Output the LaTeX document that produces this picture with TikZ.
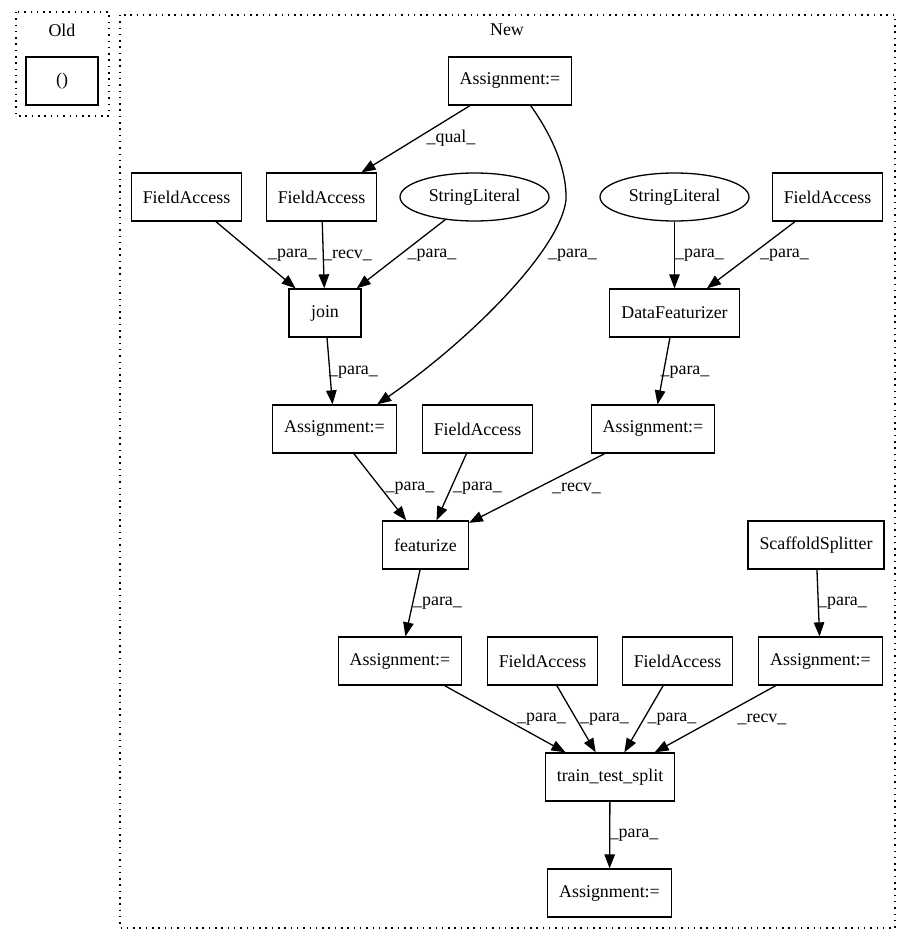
\documentclass[tikz,border=0pt]{standalone}
\usepackage{fontspec}
\setmainfont{Liberation Serif}
\usetikzlibrary{arrows.meta,shapes.geometric}
\begin{document}
\begin{tikzpicture}[x=1pt,y=-1pt,
  every node/.style={font=\fontsize{17.9}{21}\selectfont},
  box/.style={draw,line width=1.3pt,rectangle,minimum height=48pt,minimum width=72pt,inner xsep=11.5pt,inner ysep=0pt},
  oval/.style={draw,line width=1.3pt,ellipse,minimum height=48pt,minimum width=149pt,inner sep=0pt},
  clus/.style={draw,line width=1.3pt,dash pattern=on 1.5pt off 4.8pt},
  e/.style={line width=1.3pt,-{Triangle[length=14pt,width=10.5pt]}},
  lbl/.style={inner sep=0pt}]
\useasboundingbox (0,0) rectangle (911,944);
% clusters
\draw[clus] (16,12) rectangle (109,116);
\node[lbl] (oldlbl) at (62,30) {Old};
\draw[clus] (120,15) rectangle (895,928);
\node[lbl] (newlbl) at (507,30) {New};
% nodes
\node[box] (old) at (62,81) {()};
\node[box] (A1) at (510,81) {Assignment:=};
\node[box] (FA1) at (186.5,197) {FieldAccess};
\node[box] (FA2) at (321.5,197) {FieldAccess};
\node[oval] (SL1) at (474.5,197) {StringLiteral};
\node[oval] (SL2) at (674.5,197) {StringLiteral};
\node[box] (FA3) at (827.5,197) {FieldAccess};
\node[box] (join) at (325,313) {join};
\node[box] (DF) at (674.5,313) {DataFeaturizer};
\node[box] (AML) at (334.5,429) {Assignment:=};
\node[box] (FA4) at (477.5,429) {FieldAccess};
\node[box] (AMR) at (653,429) {Assignment:=};
\node[box] (feat) at (425.5,545) {featurize};
\node[box] (SS) at (816,545) {ScaffoldSplitter};
\node[box] (ALL) at (400,661) {Assignment:=};
\node[box] (FA5) at (542.5,661) {FieldAccess};
\node[box] (FA6) at (677.5,661) {FieldAccess};
\node[box] (ALR) at (820.5,661) {Assignment:=};
\node[box] (tts) at (610,777) {train\_test\_split};
\node[box] (AB) at (609.5,893) {Assignment:=};
% edges
\draw[e] (A1) -- (FA2);
\draw[e] (A1.-50) .. controls (548,130) and (567,165) .. (566,200) .. controls (560,250) and (470,340) .. (AML.30);
\draw[e] (FA1) -- (join);
\draw[e] (FA2) -- (join);
\draw[e] (SL1) -- (join);
\draw[e] (SL2) -- (DF);
\draw[e] (FA3) -- (DF);
\draw[e] (join) -- (AML);
\draw[e] (DF) -- (AMR);
\draw[e] (AML) -- (feat);
\draw[e] (FA4) -- (feat);
\draw[e] (AMR) -- (feat);
\draw[e] (feat) -- (ALL);
\draw[e] (SS) -- (ALR);
\draw[e] (ALL) -- (tts);
\draw[e] (FA5) -- (tts);
\draw[e] (FA6) -- (tts);
\draw[e] (ALR) -- (tts);
\draw[e] (tts) -- (AB);
% edge labels
\node[lbl] (l1) at (451,138) {\_qual\_};
\node[lbl] (l2) at (572.5,255) {\_para\_};
\node[lbl] (l3) at (292.5,255) {\_para\_};
\node[lbl] (l4) at (347.5,255) {\_recv\_};
\node[lbl] (l5) at (432,255) {\_para\_};
\node[lbl] (l6) at (699.5,255) {\_para\_};
\node[lbl] (l7) at (784.5,255) {\_para\_};
\node[lbl] (l8) at (353.5,372) {\_para\_};
\node[lbl] (l9) at (685,372) {\_para\_};
\node[lbl] (l10) at (410,488) {\_para\_};
\node[lbl] (l11) at (477.5,488) {\_para\_};
\node[lbl] (l12) at (576.5,488) {\_recv\_};
\node[lbl] (l13) at (437.5,603) {\_para\_};
\node[lbl] (l14) at (842.5,603) {\_para\_};
\node[lbl] (l15) at (541.5,719) {\_para\_};
\node[lbl] (l16) at (604.5,719) {\_para\_};
\node[lbl] (l17) at (672,719) {\_para\_};
\node[lbl] (l18) at (762,719) {\_recv\_};
\node[lbl] (l19) at (634,835) {\_para\_};
\end{tikzpicture}
\end{document}
